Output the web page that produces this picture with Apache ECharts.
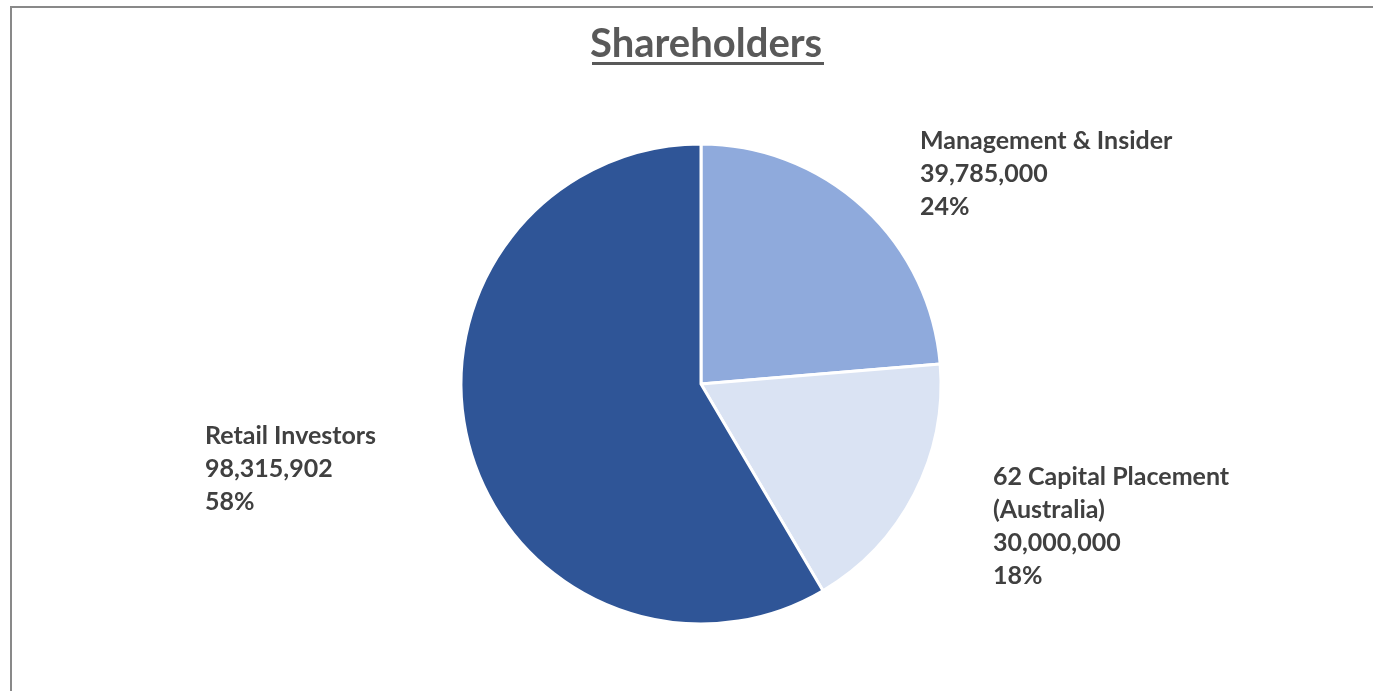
<!DOCTYPE html>
<html>
<head>
<meta charset="utf-8">
<script src="https://cdn.jsdelivr.net/npm/echarts@6/dist/echarts.min.js"></script>
<style>
  html, body { margin: 0; padding: 0; background: #fff; }
  #chart { width: 1373px; height: 691px; }
</style>
</head>
<body>
<div id="chart"></div>
<script>
// Shareholder groups and their share counts
const categories = ['Management & Insider', '62 Capital Placement\n(Australia)', 'Retail Investors'];
const shares = [39785000, 30000000, 98315902];
const colors = ['#8FAADC', '#DAE3F3', '#2F5597'];

// Where each slice's label sits (left/top of the text block)
const labelSpots = [
  { x: 920, y: 124 },
  { x: 993, y: 460 },
  { x: 205, y: 419 }
];

const chart = echarts.init(document.getElementById('chart'), null, { renderer: 'canvas' });

const fmt = n => n.toLocaleString('en-US');

chart.setOption({
  animation: false,
  backgroundColor: '#ffffff',
  title: {
    text: 'Shareholders',
    left: 590,
    top: 24,
    padding: 0,
    textStyle: {
      fontFamily: 'Lato',
      fontWeight: 'bold',
      fontSize: 40,
      color: '#595959'
    }
  },
  graphic: [
    {
      type: 'rect',
      shape: { x: 11, y: 7, width: 1400, height: 720 },
      style: { fill: 'none', stroke: '#898989', lineWidth: 2 },
      silent: true
    },
    {
      type: 'rect',
      shape: { x: 592, y: 62, width: 232, height: 3 },
      style: { fill: '#595959' },
      silent: true
    }
  ],
  series: [{
    type: 'pie',
    center: [701, 384],
    radius: 240,
    startAngle: 90,
    clockwise: true,
    percentPrecision: 0,
    itemStyle: { borderColor: '#ffffff', borderWidth: 3 },
    label: {
      show: true,
      position: 'outside',
      fontFamily: 'Lato',
      fontWeight: 'bold',
      fontSize: 25,
      lineHeight: 33,
      color: '#404040',
      formatter: p => p.name + '\n' + fmt(p.value) + '\n' + Math.round(p.percent) + '%'
    },
    labelLine: { show: false },
    labelLayout: p => ({
      x: labelSpots[p.dataIndex].x,
      y: labelSpots[p.dataIndex].y,
      align: 'left',
      verticalAlign: 'top'
    }),
    emphasis: { disabled: true },
    data: categories.map((name, i) => ({
      name: name,
      value: shares[i],
      itemStyle: { color: colors[i] }
    }))
  }]
});
</script>
</body>
</html>
